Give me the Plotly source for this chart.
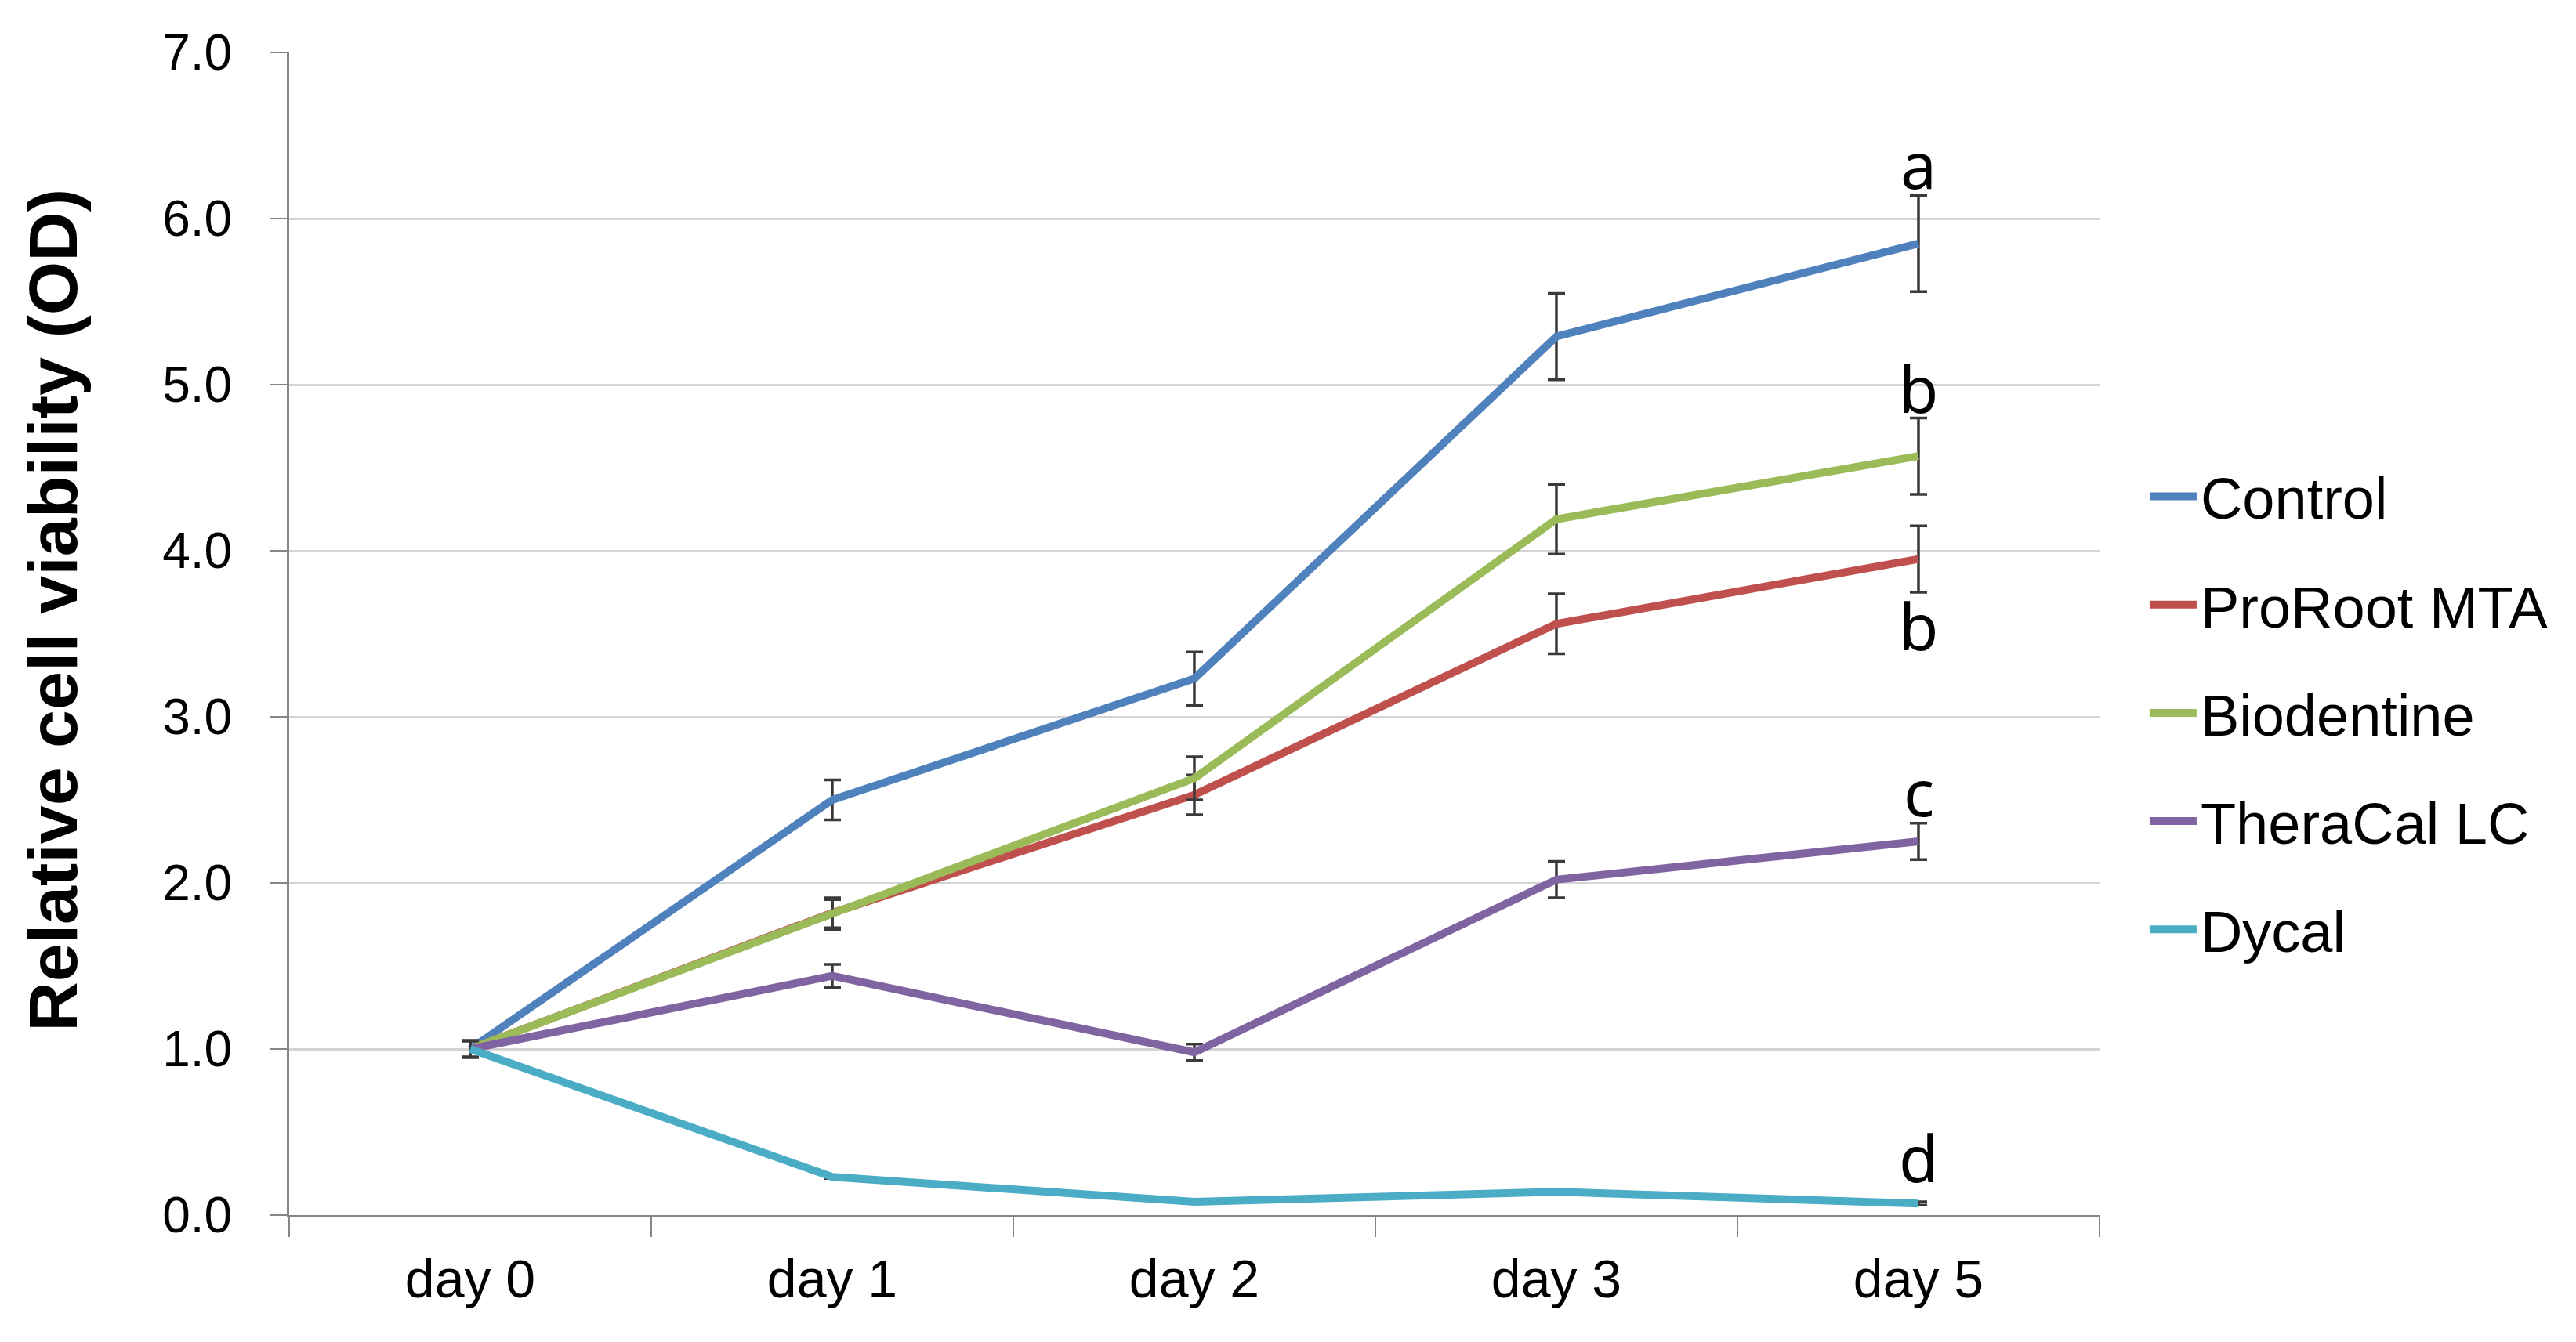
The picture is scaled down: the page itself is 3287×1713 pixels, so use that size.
import plotly.graph_objects as go

days = ["day 0", "day 1", "day 2", "day 3", "day 5"]

control = [1.0, 2.50, 3.23, 5.29, 5.85]
control_err = [0.05, 0.12, 0.16, 0.26, 0.29]
proroot = [1.0, 1.82, 2.53, 3.56, 3.95]
proroot_err = [0.05, 0.09, 0.12, 0.18, 0.20]
biodentine = [1.0, 1.81, 2.63, 4.19, 4.57]
biodentine_err = [0.05, 0.09, 0.13, 0.21, 0.23]
theracal = [1.0, 1.44, 0.98, 2.02, 2.25]
theracal_err = [0.05, 0.07, 0.05, 0.11, 0.11]
dycal = [1.0, 0.23, 0.08, 0.14, 0.07]
dycal_err = [0.05, 0.01, 0.01, 0.01, 0.01]

series_names = ["Control", "ProRoot MTA", "Biodentine", "TheraCal LC", "Dycal"]
series_values = [control, proroot, biodentine, theracal, dycal]
series_errors = [control_err, proroot_err, biodentine_err, theracal_err, dycal_err]
colors = ["#4F81BD", "#C0504D", "#9BBB59", "#8064A2", "#4BACC6"]

letters = ["a", "b", "b", "c", "d"]
letter_y = [6.33, 4.98, 3.55, 2.55, 0.35]

fig = go.Figure()
for i, (name, vals, errs) in enumerate(zip(series_names, series_values, series_errors)):
    fig.add_trace(go.Scatter(
        x=days, y=vals, name=name, mode="lines",
        line=dict(color=colors[i], width=10),
        legendgroup=name,
        error_y=dict(type="data", array=errs, visible=True,
                     color="#3a3a3a", thickness=3.5, width=11),
    ))

for t, yv in zip(letters, letter_y):
    fig.add_annotation(x="day 5", y=yv, text=t, showarrow=False,
                       font=dict(family="Noto Sans", size=82, color="black"),
                       xanchor="center", yanchor="middle")

fig.add_annotation(xref="paper", yref="paper", x=-0.1305, y=0.52,
                   text="<b>Relative cell viability (OD)</b>", textangle=-90,
                   showarrow=False, xanchor="center", yanchor="middle",
                   font=dict(family="Liberation Sans", size=88, color="black"))

fig.update_layout(
    width=3287, height=1713,
    margin=dict(l=361, r=616, t=59, b=170),
    paper_bgcolor="white", plot_bgcolor="white",
    font=dict(family="Liberation Sans", color="black"),
    legend=dict(x=1.0255, y=0.432, xanchor="left", yanchor="middle",
                font=dict(size=74, family="Liberation Sans"),
                tracegroupgap=39, itemwidth=60, bgcolor="rgba(0,0,0,0)"),
    xaxis=dict(
        type="category", categoryorder="array", categoryarray=days,
        range=[-0.5, 4.5], showgrid=False, showline=True,
        linecolor="#868686", linewidth=3, ticks="outside", tickson="boundaries",
        ticklen=25, tickwidth=2, tickcolor="#868686",
        tickfont=dict(size=68, family="Liberation Sans"),
        ticklabelstandoff=20, zeroline=False,
    ),
    yaxis=dict(
        range=[0, 7], dtick=1, tickformat=".1f", showgrid=True,
        gridcolor="#d4d4d4", gridwidth=3, showline=True,
        linecolor="#868686", linewidth=3, ticks="outside", ticklen=21,
        tickwidth=2, tickcolor="#868686", zeroline=False,
        tickfont=dict(size=64, family="Liberation Sans"),
        ticklabelstandoff=36,
    ),
)

fig.write_html("out.html")
